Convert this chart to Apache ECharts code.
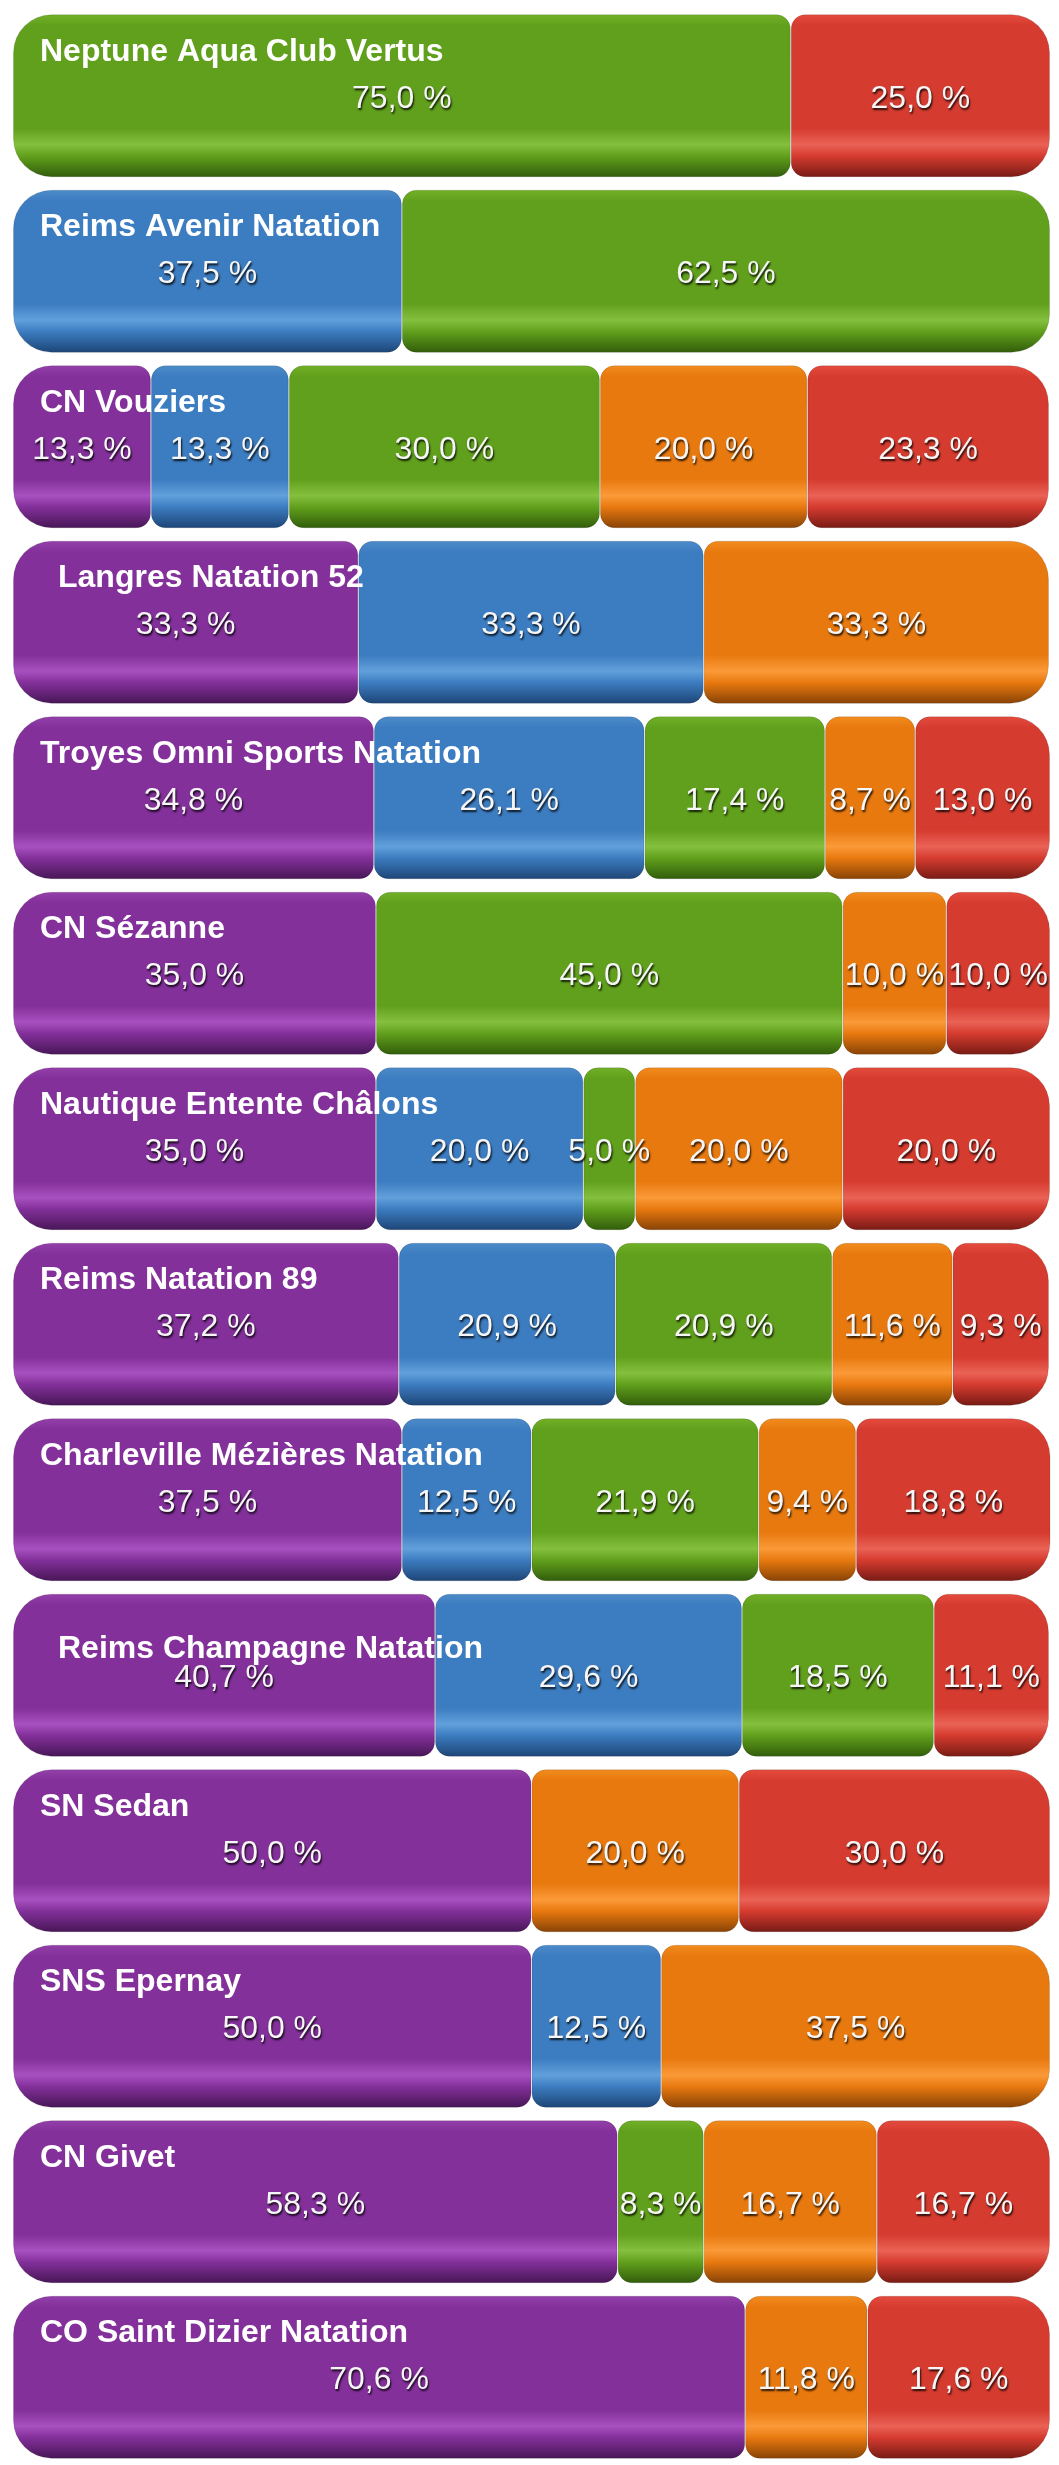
<!DOCTYPE html>
<html>
<head>
<meta charset="utf-8">
<script src="https://cdn.jsdelivr.net/npm/echarts@6/dist/echarts.min.js"></script>
<style>
  html, body { margin: 0; padding: 0; background: #fff; }
  #chart { width: 1059px; height: 2465px; }
</style>
</head>
<body>
<div id="chart"></div>
<script>
// clubs, top to bottom
const clubs = [
  'Neptune Aqua Club Vertus',
  'Reims Avenir Natation',
  'CN Vouziers',
  'Langres Natation 52',
  'Troyes Omni Sports Natation',
  'CN Sézanne',
  'Nautique Entente Châlons',
  'Reims Natation 89',
  'Charleville Mézières Natation',
  'Reims Champagne Natation',
  'SN Sedan',
  'SNS Epernay',
  'CN Givet',
  'CO Saint Dizier Natation'
];

// parts in %, one array per colour
const violet = [0, 0, 13.3, 33.3, 34.8, 35.0, 35.0, 37.2, 37.5, 40.7, 50.0, 50.0, 58.3, 70.6];
const bleu   = [0, 37.5, 13.3, 33.3, 26.1, 0, 20.0, 20.9, 12.5, 29.6, 0, 12.5, 0, 0];
const vert   = [75.0, 62.5, 30.0, 0, 17.4, 45.0, 5.0, 20.9, 21.9, 18.5, 0, 0, 8.3, 0];
const orange = [0, 0, 20.0, 33.3, 8.7, 10.0, 20.0, 11.6, 9.4, 0, 20.0, 37.5, 16.7, 11.8];
const rouge  = [25.0, 0, 23.3, 0, 13.0, 10.0, 20.0, 9.3, 18.8, 11.1, 30.0, 0, 16.7, 17.6];

const parts = [violet, bleu, vert, orange, rouge];
const partNames = ['violet', 'bleu', 'vert', 'orange', 'rouge'];

// top, body, light band, dark bottom
const shades = [
  ['#9440aa', '#83309a', '#a850c0', '#471656'],
  ['#4d8cca', '#3c7cc0', '#62a0dc', '#1d4576'],
  ['#72b028', '#61a01c', '#84c03e', '#315c0b'],
  ['#f28c1e', '#e8790f', '#fb9a38', '#874206'],
  ['#e44c3e', '#d63b2f', '#ea6256', '#761b15']
];

// label tweaks (names that sit indented / lower in the picture)
const indented = ['Langres Natation 52', 'Reims Champagne Natation'];
const lowered = ['Reims Champagne Natation'];

const OUTER_R = 38;
const INNER_R = 14;
const FONT = 'Liberation Sans, Arial, Helvetica, sans-serif';

function gradient(s) {
  return new echarts.graphic.LinearGradient(0, 0, 0, 1, [
    { offset: 0, color: s[0] },
    { offset: 0.07, color: s[1] },
    { offset: 0.7, color: s[1] },
    { offset: 0.8, color: s[2] },
    { offset: 0.87, color: s[1] },
    { offset: 1, color: s[3] }
  ]);
}

function fmt(v) {
  return v.toFixed(1).replace('.', ',') + ' %';
}

const series = parts.map((arr, si) => {
  const data = arr.map((v, ci) => {
    let first = -1, last = -1;
    parts.forEach((p, k) => {
      if (p[ci] > 0) {
        if (first < 0) first = k;
        last = k;
      }
    });
    const l = si === first ? OUTER_R : INNER_R;
    const r = si === last ? OUTER_R : INNER_R;
    return {
      value: v > 0 ? v : '-',
      itemStyle: { borderRadius: [l, r, r, l] }
    };
  });
  return {
    name: partNames[si],
    type: 'bar',
    stack: 'total',
    barWidth: 163,
    data: data,
    itemStyle: {
      color: gradient(shades[si]),
      borderColor: 'rgba(0,0,0,0.12)',
      borderWidth: 1
    },
    label: {
      show: true,
      position: 'inside',
      offset: [0, 3],
      fontFamily: FONT,
      fontSize: 32,
      color: '#f6f6f6',
      textShadowColor: 'rgba(0,0,0,0.85)',
      textShadowBlur: 2,
      textShadowOffsetX: 1,
      textShadowOffsetY: 2,
      formatter: p => (p.value > 0 ? fmt(p.value) : '')
    }
  };
});

const chart = echarts.init(document.getElementById('chart'));

chart.setOption({
  backgroundColor: '#ffffff',
  animation: false,
  grid: { left: 13, right: 9, top: 8, height: 2468 },
  xAxis: { type: 'value', min: 0, max: 100, show: false },
  yAxis: {
    type: 'category',
    data: clubs,
    inverse: true,
    z: 10,
    axisLine: { show: false },
    axisTick: { show: false },
    splitLine: { show: false },
    axisLabel: {
      inside: true,
      interval: 0,
      margin: 27,
      formatter: name => {
        let key = 'std';
        if (lowered.includes(name)) key = 'low';
        else if (indented.includes(name)) key = 'ind';
        return '{' + key + '|' + name + '}';
      },
      rich: {
        std: { color: '#fff', fontFamily: FONT, fontWeight: 'bold', fontSize: 32, padding: [0, 0, 88, 0] },
        ind: { color: '#fff', fontFamily: FONT, fontWeight: 'bold', fontSize: 32, padding: [0, 0, 88, 18] },
        low: { color: '#fff', fontFamily: FONT, fontWeight: 'bold', fontSize: 32, padding: [0, 0, 52, 18] }
      }
    }
  },
  series: series
});
</script>
</body>
</html>
